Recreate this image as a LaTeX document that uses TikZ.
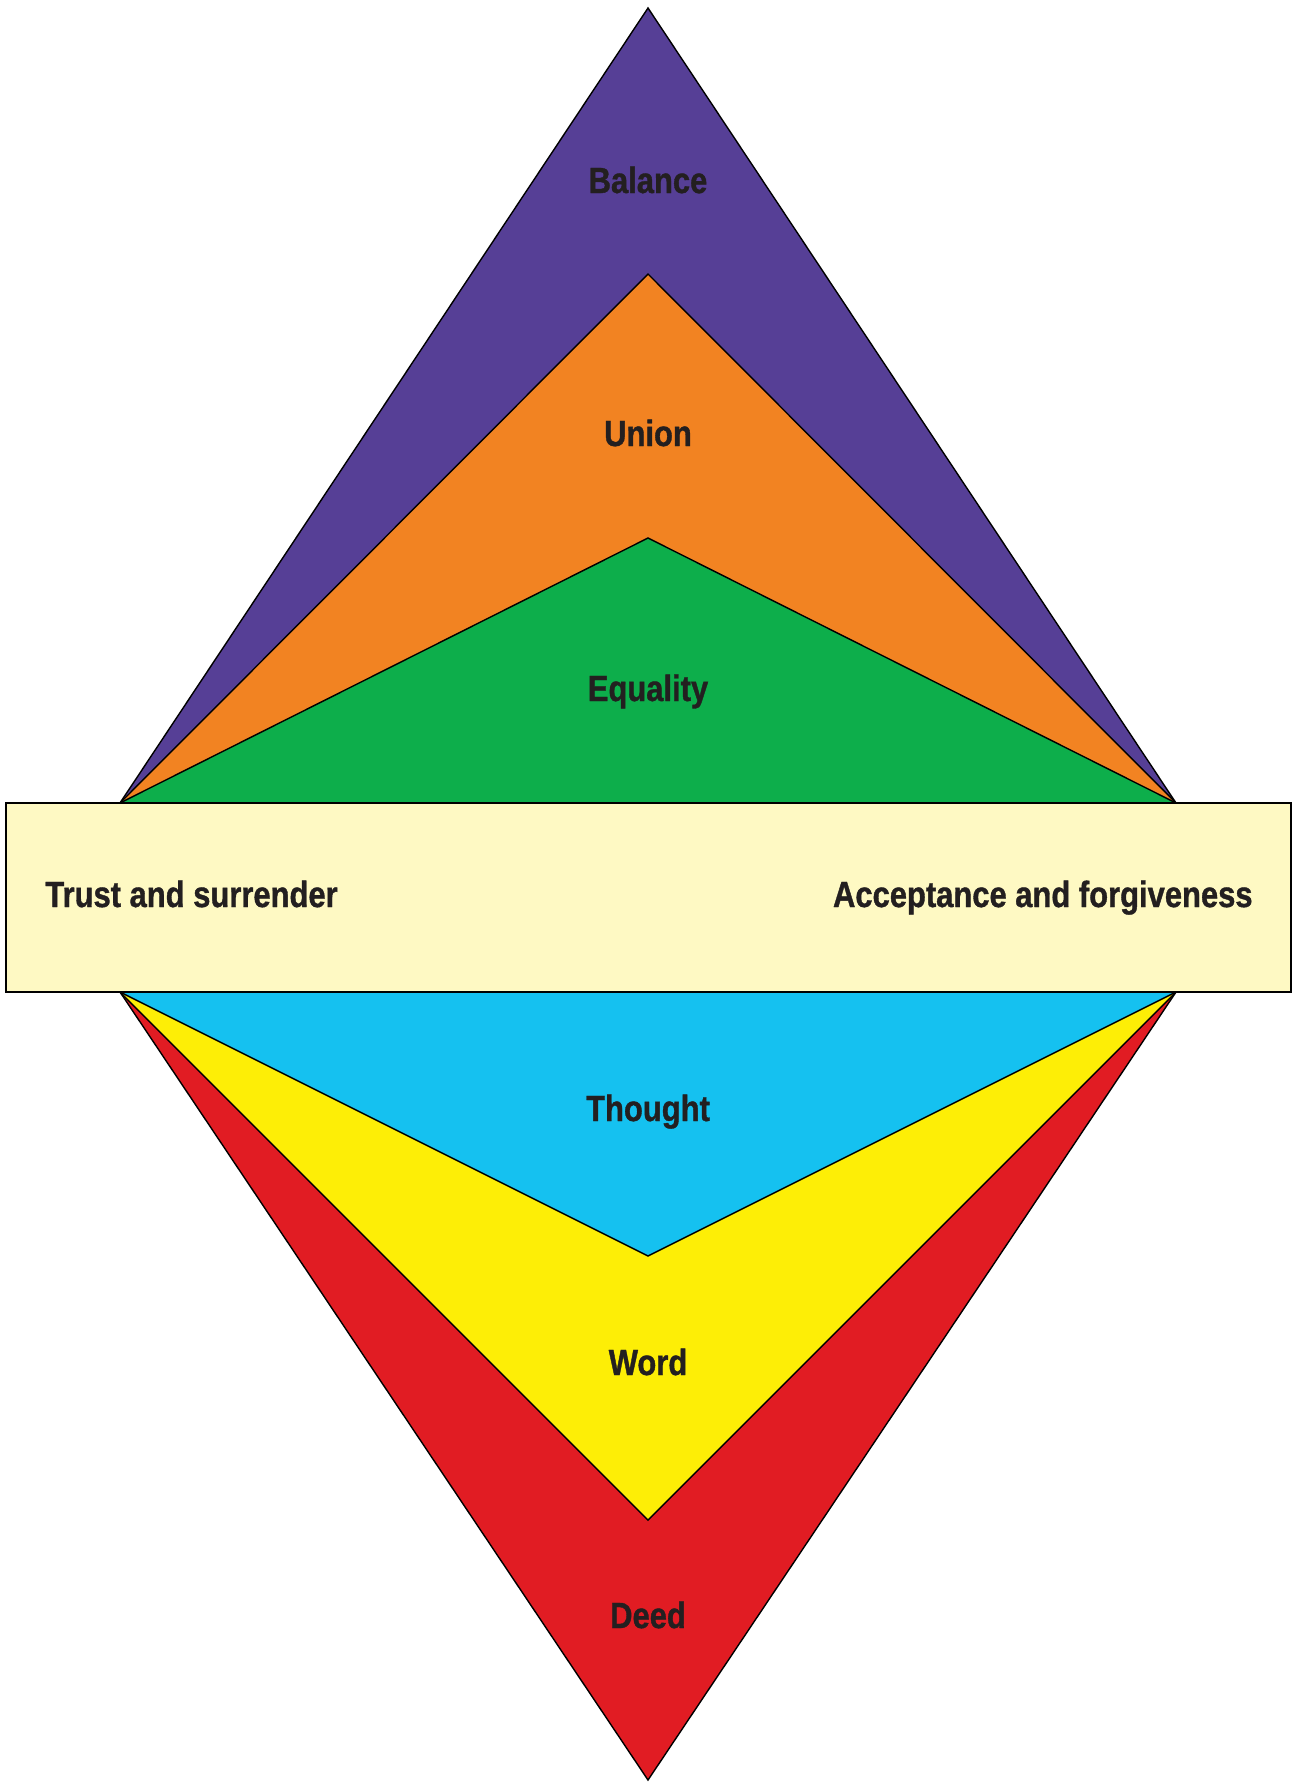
\documentclass[tikz,border=0pt]{standalone}
\usepackage{fontspec}
\newfontfamily\condfont[FakeStretch=0.85,FakeBold=1]{Liberation Sans}
\definecolor{balancecol}{HTML}{563F96}
\definecolor{unioncol}{HTML}{F28322}
\definecolor{equalcol}{HTML}{0DAE4B}
\definecolor{bandcol}{HTML}{FEF9C3}
\definecolor{thoughtcol}{HTML}{15C1F0}
\definecolor{wordcol}{HTML}{FDEE06}
\definecolor{deedcol}{HTML}{E11C23}
\definecolor{txt}{HTML}{231F20}
\tikzset{
  tri/.style={draw=black, line width=0.7pt},
  lbl/.style={font=\condfont\bfseries\fontsize{18.2}{18}\selectfont, text=txt, inner sep=0pt, anchor=base}
}

\begin{document}
\begin{tikzpicture}[x=0.5pt, y=-0.5pt]
\useasboundingbox (0,0) rectangle (1296,1782);
\coordinate (tl) at (120,803);
\coordinate (tr) at (1176,803);
\coordinate (bl) at (120,992);
\coordinate (br) at (1176,992);
% upper and lower wedges, largest first
\foreach \apex/\col in {8/balancecol, 274/unioncol, 538/equalcol}
  \filldraw[tri, fill=\col] (tl) -- (648,\apex) -- (tr) -- cycle;
\foreach \apex/\col in {1780/deedcol, 1520/wordcol, 1256/thoughtcol}
  \filldraw[tri, fill=\col] (bl) -- (648,\apex) -- (br) -- cycle;
% middle band
\filldraw[tri, fill=bandcol] (6,803) rectangle (1291,992);

\node[lbl] (balance) at (648,193) {Balance};
\node[lbl] (union) at (648,446) {Union};
\node[lbl] (equality) at (648,701) {Equality};
\node[lbl, anchor=base west] (trust) at (45,907) {Trust and surrender};
\node[lbl, anchor=base east] (accept) at (1253,907) {Acceptance and forgiveness};
\node[lbl] (thought) at (648,1121) {Thought};
\node[lbl] (word) at (648,1375) {Word};
\node[lbl] (deed) at (648,1628) {Deed};
\end{tikzpicture}
\end{document}
